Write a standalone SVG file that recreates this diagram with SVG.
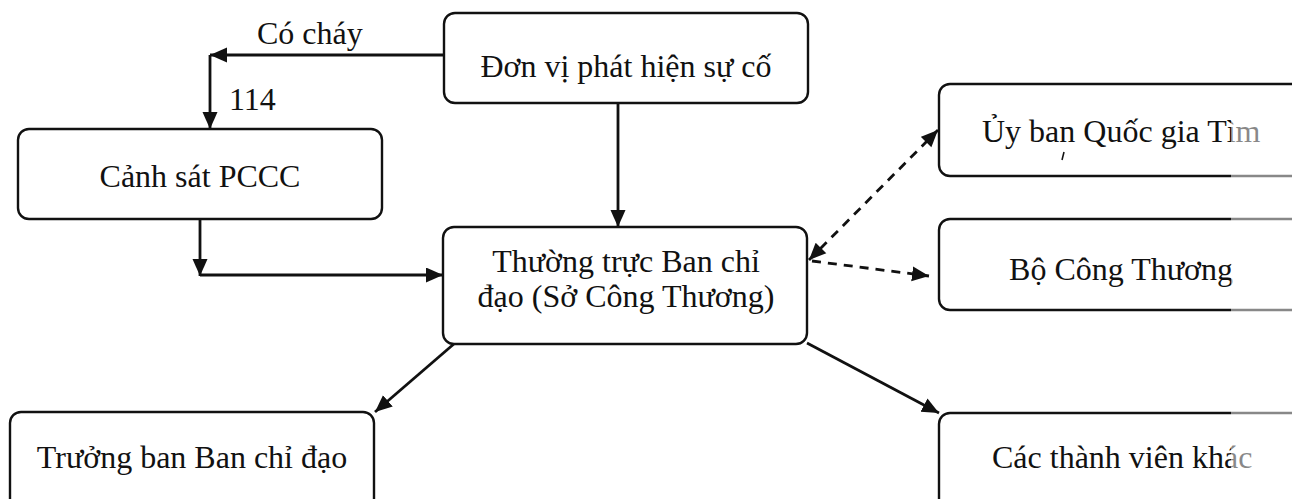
<svg xmlns="http://www.w3.org/2000/svg" width="1292" height="499" viewBox="0 0 1292 499">
  <style>
    .box { fill: #ffffff; stroke: #111111; stroke-width: 2.4; }
    .lbl { font-family: "Liberation Serif", "Times New Roman", serif; font-size: 32px; fill: #111111; }
    .con { fill: none; stroke: #111111; stroke-width: 2.8; }
    .dash { fill: none; stroke: #111111; stroke-width: 2.8; stroke-dasharray: 9 7; }
  </style>
  <defs>
    <marker id="ah" markerUnits="userSpaceOnUse" markerWidth="20" markerHeight="18" refX="17" refY="7.5" orient="auto">
      <path d="M0,0 L17,7.5 L0,15 z" fill="#111111"/>
    </marker>
    <marker id="ahs" markerUnits="userSpaceOnUse" markerWidth="20" markerHeight="18" refX="0" refY="7.5" orient="auto">
      <path d="M17,0 L0,7.5 L17,15 z" fill="#111111"/>
    </marker>
  </defs>
  <rect width="1292" height="499" fill="#ffffff"/>

  <g id="connectors">
    <line class="con" x1="443" y1="55" x2="210" y2="55" marker-end="url(#ah)"/>
    <line class="con" x1="210" y1="55" x2="210" y2="129" marker-end="url(#ah)"/>
    <line class="con" x1="200" y1="219" x2="200" y2="276" stroke-width="3.6" marker-end="url(#ah)"/>
    <line class="con" x1="200" y1="275" x2="443" y2="275" marker-end="url(#ah)"/>
    <line class="con" x1="618" y1="103" x2="618" y2="227" marker-end="url(#ah)"/>
    <line class="dash" x1="809" y1="260" x2="938" y2="130" marker-start="url(#ahs)" marker-end="url(#ah)"/>
    <line class="dash" x1="812" y1="261" x2="929" y2="276" marker-end="url(#ah)"/>
    <line class="con" x1="455" y1="343" x2="375" y2="412" marker-end="url(#ah)"/>
    <line class="con" x1="807" y1="343" x2="939" y2="413" marker-end="url(#ah)"/>
    <text class="lbl" x="257" y="44">Có cháy</text>
    <text class="lbl" x="229" y="110">114</text>
  </g>

  <g id="n-donvi">
    <rect class="box" x="444" y="13" width="364" height="90" rx="11"/>
    <text class="lbl" x="626" y="77" text-anchor="middle">Đơn vị phát hiện sự cố</text>
  </g>
  <g id="n-pccc">
    <rect class="box" x="18" y="129" width="364" height="90" rx="11"/>
    <text class="lbl" x="200" y="187" text-anchor="middle">Cảnh sát PCCC</text>
  </g>
  <g id="n-thuongtruc">
    <rect class="box" x="443" y="227" width="364" height="117" rx="11"/>
    <text class="lbl" x="626" y="272" text-anchor="middle">Thường trực Ban chỉ</text>
    <text class="lbl" x="626" y="307" text-anchor="middle">đạo (Sở Công Thương)</text>
  </g>
  <g id="n-uyban">
    <rect class="box" x="939" y="84" width="400" height="92" rx="11"/>
    <text class="lbl" x="982" y="142">Ủy ban Quốc gia Tìm</text>
    <line x1="1064" y1="152" x2="1062" y2="160" stroke="#111111" stroke-width="1.6"/>
  </g>
  <g id="n-bocongthuong">
    <rect class="box" x="939" y="219" width="400" height="91" rx="11"/>
    <text class="lbl" x="1121" y="280" text-anchor="middle">Bộ Công Thương</text>
  </g>
  <g id="n-truongban">
    <rect class="box" x="10" y="412" width="364" height="110" rx="11"/>
    <text class="lbl" x="192" y="468" text-anchor="middle">Trưởng ban Ban chỉ đạo</text>
  </g>
  <g id="n-cacthanhvien">
    <rect class="box" x="939" y="413" width="400" height="110" rx="11"/>
    <text class="lbl" x="992" y="468">Các thành viên khác</text>
  </g>

  <rect x="1231" y="92" width="61" height="407" fill="#ffffff" fill-opacity="0.5"/>
</svg>
